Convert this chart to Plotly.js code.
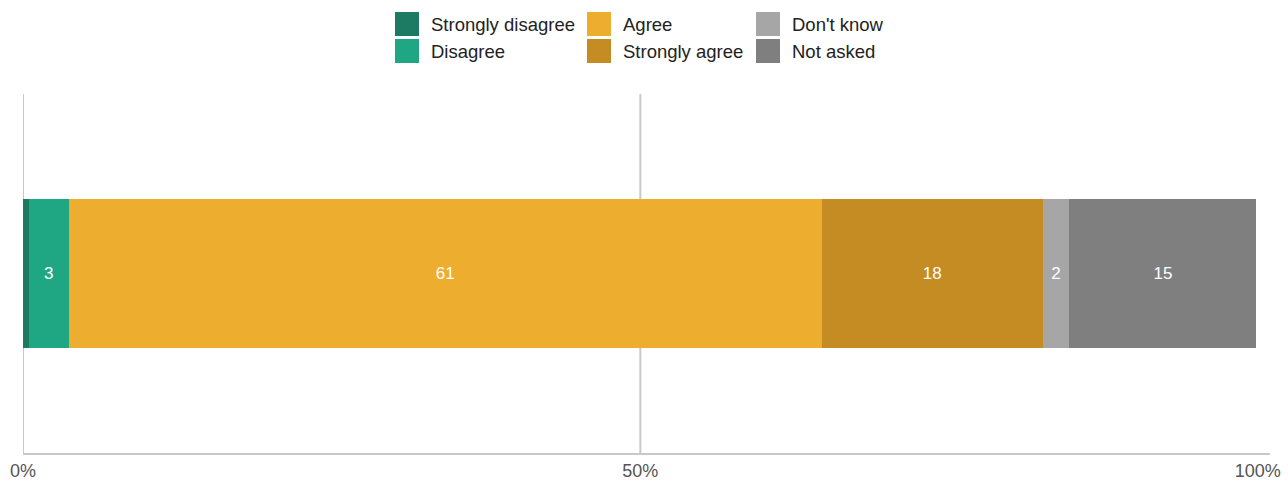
<!DOCTYPE html>
<html>
<head>
<meta charset="utf-8">
<script src="https://cdn.plot.ly/plotly-3.0.1.min.js"></script>
<style>
  html, body { margin: 0; padding: 0; background: #ffffff; }
  #chart { width: 1288px; height: 482px; }
</style>
</head>
<body>
<div id="chart"></div>
<script>
// ---- data ----
const categories = ["Response"];
const seriesNames = ["Strongly disagree", "Disagree", "Agree", "Strongly agree", "Don't know", "Not asked"];
const stronglyDisagree = [0.45];
const disagree = [3.25];
const agree = [61.0];
const stronglyAgree = [17.9];
const dontKnow = [2.15];
const notAsked = [15.15];
const tickValues = [0, 50, 100];
const tickLabels = ["0%", "50%", "100%"];
const gridValues = [0, 50];

// ---- styling ----
const colors = ["#1d7b64", "#1fa783", "#edad2e", "#c48c23", "#a6a6a6", "#7f7f7f"];
const seriesValues = [stronglyDisagree, disagree, agree, stronglyAgree, dontKnow, notAsked];
const FONT = '"Liberation Sans", Arial, sans-serif';

const W = 1288, H = 482;
const M = { l: 23, r: 18, t: 94, b: 29 };
const PW = W - M.l - M.r, PH = H - M.t - M.b;
const px2x = px => (px - M.l) / PW;
const py2y = py => (H - M.b - py) / PH;

// legend layout (pixels): column swatch left edges, row centres
const legendCols = [395, 587, 756];
const legendRows = [24, 51];
const swatch = 24;
const textOffset = 34;

const traces = seriesValues.map((vals, i) => ({
  type: 'bar',
  orientation: 'h',
  name: seriesNames[i],
  y: categories,
  x: vals,
  width: 0.415,
  marker: { color: colors[i], line: { width: 0 } },
  text: vals.map(v => (v >= 1 ? String(Math.round(v)) : '')),
  textposition: 'inside',
  insidetextanchor: 'middle',
  textangle: 0,
  constraintext: 'none',
  insidetextfont: { color: '#ffffff', size: 17, family: FONT },
  hoverinfo: 'name+x'
}));

const shapes = gridValues.map(v => ({
  type: 'line', xref: 'x', yref: 'paper',
  x0: v, x1: v, y0: 0, y1: 1,
  line: { color: '#c8c8c8', width: 2 },
  layer: 'below'
}));
const annotations = [];
seriesNames.forEach((name, i) => {
  const col = Math.floor(i / 2), row = i % 2;
  const left = legendCols[col], cy = legendRows[row];
  shapes.push({
    type: 'rect', xref: 'paper', yref: 'paper',
    x0: px2x(left), x1: px2x(left + swatch),
    y0: py2y(cy + swatch / 2), y1: py2y(cy - swatch / 2),
    fillcolor: colors[i], line: { width: 0 }
  });
  annotations.push({
    xref: 'paper', yref: 'paper',
    x: px2x(left + textOffset), y: py2y(cy),
    xanchor: 'left', yanchor: 'middle',
    text: name, showarrow: false,
    font: { family: FONT, size: 18.5, color: '#222222' }
  });
});

const layout = {
  width: W,
  height: H,
  margin: M,
  paper_bgcolor: '#ffffff',
  plot_bgcolor: '#ffffff',
  barmode: 'stack',
  showlegend: false,
  font: { family: FONT, size: 18, color: '#222222' },
  shapes: shapes,
  annotations: annotations,
  xaxis: {
    range: [0, 101],
    tickvals: tickValues,
    ticktext: tickLabels,
    showgrid: false,
    zeroline: false,
    showline: true,
    linecolor: '#c8c8c8',
    linewidth: 2,
    ticks: '',
    tickfont: { family: FONT, size: 18, color: '#555555' },
    fixedrange: true
  },
  yaxis: {
    range: [-0.5, 0.5],
    showticklabels: false,
    showgrid: false,
    zeroline: false,
    ticks: '',
    fixedrange: true
  }
};

Plotly.newPlot('chart', traces, layout, { displayModeBar: false });
</script>
</body>
</html>
